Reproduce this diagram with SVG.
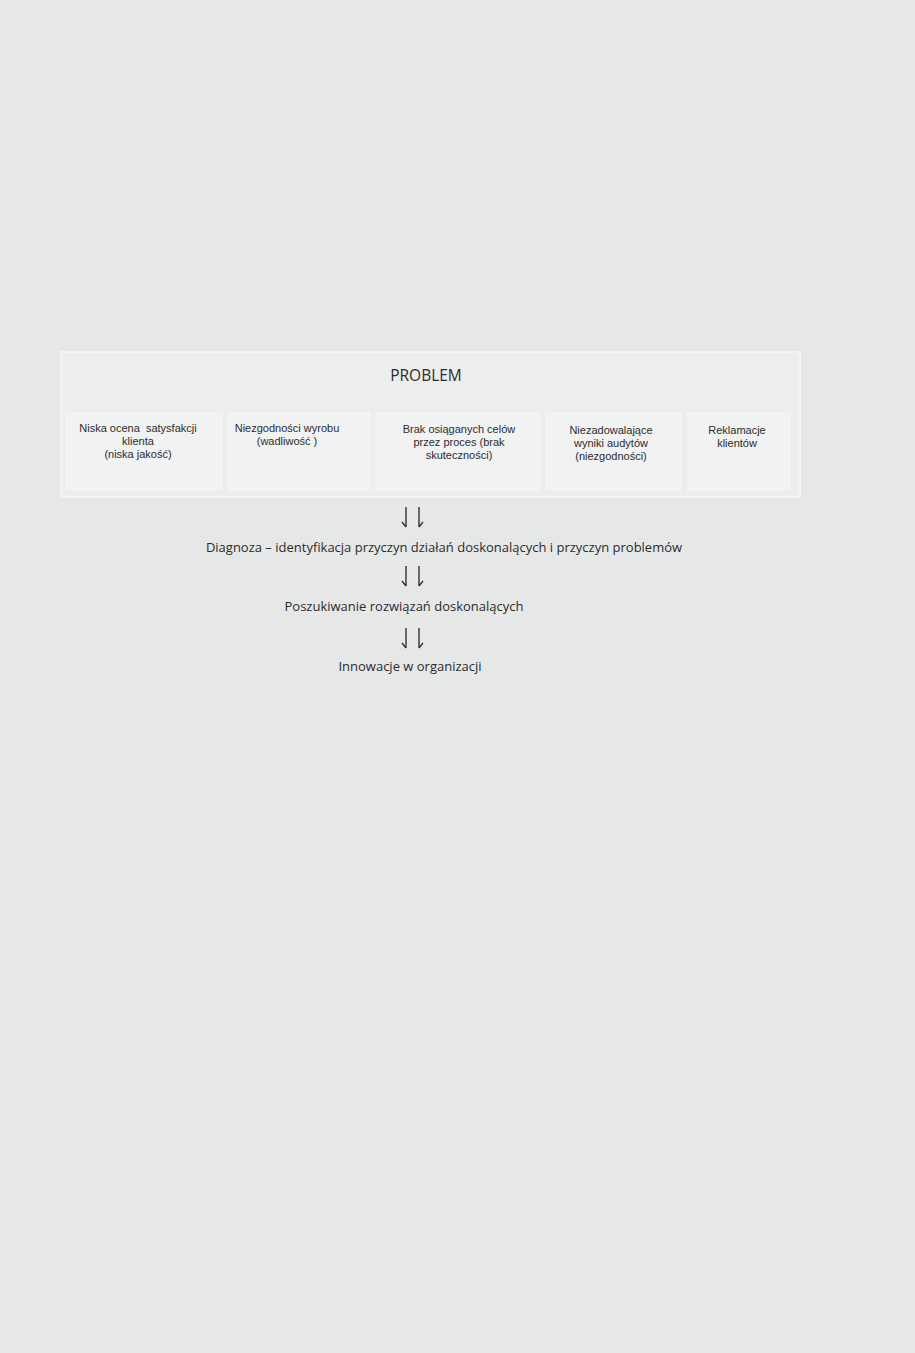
<svg xmlns="http://www.w3.org/2000/svg" width="915" height="1353" viewBox="0 0 915 1353">
<style>
.t{font-family:"Open Sans","Liberation Sans",sans-serif;fill:#2c2c2c;text-anchor:middle}
.s{font-family:"Liberation Sans","Open Sans",sans-serif;font-size:11px}
.m{font-size:13px}
.b{fill:#f1f2f2;stroke:#f6f6f6;stroke-width:1}
.a{fill:none;stroke:#333;stroke-width:1.4}
</style>
<rect width="915" height="1353" fill="#e6e7e7"/>
<g id="problem">
<rect x="61" y="352" width="739" height="145" fill="#eceded" stroke="#f3f3f3" stroke-width="2"/>
<text class="t" x="426" y="381" font-size="15.5">PROBLEM</text>
</g>
<g id="n1">
<rect class="b" x="66" y="413" width="156" height="77"/>
<text class="t s" x="138" y="432" xml:space="preserve">Niska ocena  satysfakcji</text>
<text class="t s" x="138" y="445">klienta</text>
<text class="t s" x="138" y="458">(niska jakość)</text>
</g>
<g id="n2">
<rect class="b" x="228" y="413" width="142" height="77"/>
<text class="t s" x="287" y="432">Niezgodności wyrobu</text>
<text class="t s" x="287" y="445">(wadliwość )</text>
</g>
<g id="n3">
<rect class="b" x="376" y="413" width="164" height="77"/>
<text class="t s" x="459" y="433">Brak osiąganych celów</text>
<text class="t s" x="459" y="446">przez proces (brak</text>
<text class="t s" x="459" y="459">skuteczności)</text>
</g>
<g id="n4">
<rect class="b" x="546" y="413" width="135" height="77"/>
<text class="t s" x="611" y="434">Niezadowalające</text>
<text class="t s" x="611" y="447">wyniki audytów</text>
<text class="t s" x="611" y="460">(niezgodności)</text>
</g>
<g id="n5">
<rect class="b" x="688" y="413" width="102" height="77"/>
<text class="t s" x="737" y="434">Reklamacje</text>
<text class="t s" x="737" y="447">klientów</text>
</g>
<g id="connectors">
<path class="a" d="M406 507 V527 M406 527 L402 522 M419 507 V527 M419 527 L423 522"/>
<path class="a" d="M406 566 V586 M406 586 L402 581 M419 566 V586 M419 586 L423 581"/>
<path class="a" d="M406 628 V648 M406 648 L402 643 M419 628 V648 M419 648 L423 643"/>
</g>
<g id="diagnoza">
<text class="t m" x="444" y="552">Diagnoza – identyfikacja przyczyn działań doskonalących i przyczyn problemów</text>
</g>
<g id="poszukiwanie">
<text class="t m" x="404" y="611">Poszukiwanie rozwiązań doskonalących</text>
</g>
<g id="innowacje">
<text class="t m" x="410" y="671">Innowacje w organizacji</text>
</g>
</svg>
